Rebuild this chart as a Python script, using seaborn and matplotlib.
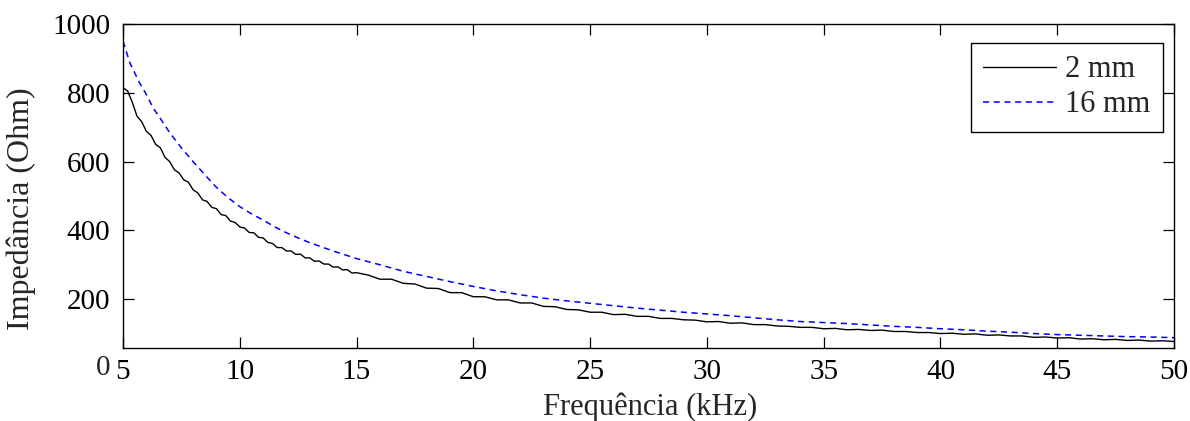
import matplotlib
matplotlib.use("Agg")
import matplotlib.pyplot as plt
import seaborn as sns

# ---- data ----
freq_2mm = [5.0, 5.2, 5.4, 5.6, 5.8, 6.0, 6.2, 6.4, 6.6, 6.8, 7.0, 7.2, 7.4, 7.6, 7.8,
            8.0, 8.2, 8.4, 8.6, 8.8, 9.0, 9.2, 9.4, 9.6, 9.8, 10.0, 10.2, 10.4, 10.6, 10.8,
            11.0, 11.2, 11.4, 11.6, 11.8, 12.0, 12.2, 12.4, 12.6, 12.8, 13.0, 13.2, 13.4,
            13.6, 13.8, 14.0, 14.2, 14.4, 14.6, 14.8, 15.0,
            15.5, 16.0, 16.5, 17.0, 17.5, 18.0, 18.5, 19.0, 19.5, 20.0, 20.5, 21.0, 21.5,
            22.0, 22.5, 23.0, 23.5, 24.0, 24.5, 25.0, 25.5, 26.0, 26.5, 27.0, 27.5, 28.0,
            28.5, 29.0, 29.5, 30.0, 30.5, 31.0, 31.5, 32.0, 32.5, 33.0, 33.5, 34.0, 34.5,
            35.0, 35.5, 36.0, 36.5, 37.0, 37.5, 38.0, 38.5, 39.0, 39.5, 40.0, 40.5, 41.0,
            41.5, 42.0, 42.5, 43.0, 43.5, 44.0, 44.5, 45.0, 45.5, 46.0, 46.5, 47.0, 47.5,
            48.0, 48.5, 49.0, 49.5, 50.0]
imp_2mm = [815, 805, 772, 732, 716, 688, 676, 650, 640, 612, 600, 576, 567, 547, 540,
           518, 509, 489, 484, 467, 463, 446, 443, 427, 423, 410, 407, 394, 393, 380,
           378, 365, 362, 350, 350, 340, 340, 330, 331, 320, 320, 310, 311,
           302, 302, 293, 294, 285, 286, 276, 277,
           270, 258, 258, 246, 244, 232, 231, 219, 219, 207, 207, 198, 198,
           189, 189, 179, 178, 170, 169, 162, 162, 155, 156, 150, 150, 144,
           144, 140, 139, 134, 135, 130, 131, 126, 126, 122, 121, 118, 118,
           114, 115, 111, 112, 109, 110, 106, 106, 103, 103, 100, 101, 98,
           99, 95, 96, 93, 93, 89, 90, 87, 88, 84, 85, 82, 83,
           80, 81, 78, 79, 77]

freq_16mm = [5.0, 5.3, 5.7, 6.0, 6.3, 6.6, 7.0, 7.5, 8.0, 8.5, 9.0, 9.5, 10.0, 10.5,
             11.0, 11.5, 12.0, 12.5, 13.0, 13.5, 14.0, 14.5, 15.0, 16.0, 17.0, 18.0,
             19.0, 20.0, 21.0, 22.0, 23.0, 24.0, 25.0, 26.0, 27.0, 28.0, 29.0, 30.0,
             31.0, 32.0, 33.0, 34.0, 35.0, 36.0, 37.0, 38.0, 39.0, 40.0, 41.0, 42.0,
             43.0, 44.0, 45.0, 46.0, 47.0, 48.0, 49.0, 50.0]
imp_16mm = [950, 886, 830, 795, 755, 725, 684, 640, 600, 562, 525, 495, 469, 448,
            430, 410, 393, 378, 364, 352, 340, 329, 318, 300, 281, 266,
            251, 237, 224, 213, 203, 195, 188, 181, 174, 168, 162, 157,
            152, 146, 140, 135, 132, 129, 125, 121, 118, 114, 111, 107,
            104, 100, 97, 95, 93, 91, 90, 88]

series_labels = ["2 mm", "16 mm"]
x_ticks = [5, 10, 15, 20, 25, 30, 35, 40, 45, 50]
y_ticks = [200, 400, 600, 800, 1000]
x_label = "Frequência (kHz)"
y_label = "Impedância (Ohm)"

# ---- style ----
sns.set_style("ticks")
plt.rcParams['font.family'] = ['Liberation Serif', 'DejaVu Serif']
plt.rcParams['axes.edgecolor'] = 'black'
plt.rcParams['axes.linewidth'] = 1.0

fig = plt.figure(figsize=(11.9, 4.21), dpi=100)
ax = fig.add_axes([123 / 1190, 1 - 348 / 421, 1051 / 1190, 324 / 421])

sns.lineplot(x=freq_2mm, y=imp_2mm, ax=ax, color='black', linewidth=1.0,
             estimator=None, label=series_labels[0])
sns.lineplot(x=freq_16mm, y=imp_16mm, ax=ax, color='#0000ff', linewidth=1.1,
             estimator=None, label=series_labels[1])
ax.lines[1].set_linestyle((0, (4, 3)))

ax.set_xlim(5, 50)
ax.set_ylim(58, 1000)
ax.set_xticks(x_ticks)
ax.set_yticks(y_ticks)
ax.tick_params(direction='in', length=8, width=0.9, top=True, right=True,
               labelsize=21, colors='black')
ax.tick_params(axis='x', pad=8)
ax.tick_params(axis='y', pad=9)
for s in ax.spines.values():
    s.set_visible(True)
    s.set_color('black')

# the "0" label sits below the visible range, as in the reference
ax.text(-13 / 1051, 0, "0", transform=ax.get_yaxis_transform(), ha='right',
        va='center', fontsize=21, clip_on=False)

ax.set_xlabel(x_label, fontsize=22)
ax.set_ylabel(y_label, fontsize=23)
ax.xaxis.set_label_coords(0.502, -0.138)
ax.yaxis.set_label_coords(-0.083, 0.43)

leg = ax.legend(loc='upper right', bbox_to_anchor=(0.9895, 0.9414), borderaxespad=0,
                fontsize=22, frameon=True, fancybox=False, edgecolor='black',
                handlelength=2.4, handletextpad=0.3, borderpad=0.4, labelspacing=0.2)
leg.get_frame().set_linewidth(1.0)
leg.get_frame().set_alpha(1)

fig.savefig("out.png", dpi=100)
